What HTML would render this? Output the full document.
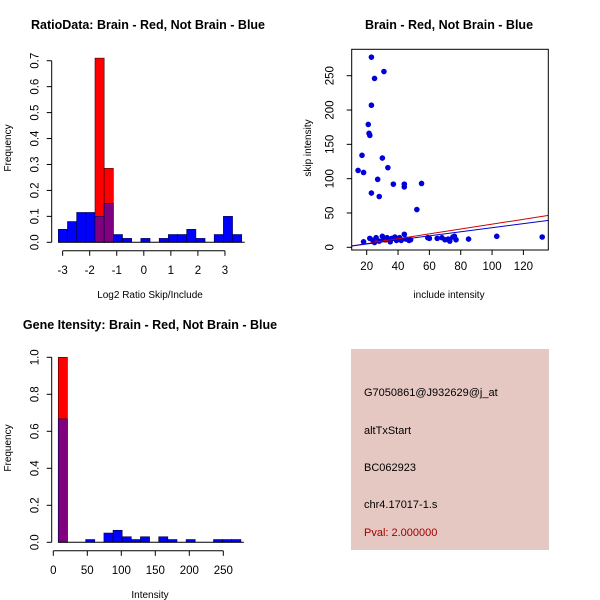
<!DOCTYPE html>
<html><head><meta charset="utf-8"><style>
body{margin:0;background:#fff}
svg{display:block;font-family:"Liberation Sans",Arial,sans-serif}
</style></head><body>
<svg id="c" width="600" height="600" viewBox="0 0 600 600" xmlns="http://www.w3.org/2000/svg">
<rect width="600" height="600" fill="#fff"/>
<g id="p1"></g>
<g id="p2"></g>
<g id="p3"></g>
<g>
<rect x="351" y="349" width="198" height="201" fill="#e6c8c2"/>
<text x="364" y="396" font-size="11" fill="#000">G7050861@J932629@j_at</text>
<text x="364" y="434" font-size="11" fill="#000">altTxStart</text>
<text x="364" y="471" font-size="11" fill="#000">BC062923</text>
<text x="364" y="508" font-size="11" fill="#000">chr4.17017-1.s</text>
<text x="364" y="536" font-size="11" fill="#a00000">Pval: 2.000000</text>
</g>
</svg>
<script>
// Panel 1 data
const ratioBinStart = -3.16, ratioBinWidth = 0.339;
const ratioRed = [0,0,0,0,0.71,0.285,0,0,0,0,0,0,0,0,0,0,0,0,0,0];
const ratioBlue = [0.05,0.08,0.115,0.115,0.10,0.15,0.03,0.015,0,0.015,0,0.015,0.03,0.03,0.05,0.015,0,0.03,0.10,0.03];
const ratioXTicks = [-3,-2,-1,0,1,2,3];
const ratioYTicks = [0,0.1,0.2,0.3,0.4,0.5,0.6,0.7];
// Panel 2 data
const includeVals = [23,31,25,23,21,21.5,22,17,30,14.5,18,33.5,27,23,28,37,44,44,55,52,18,22,24,26,25,28,30,31,33,35,36,38,39,41,42,44,45,47,48,59,60,65,68,70,72,73,75,76,77,85,103,132];
const skipVals = [277,256,246,207,179,166,163,134,130,112,109,116,99,79,74,92,92,88,93,55,8,13,10,14,7,9,16,12,14,8,13,15,10,14,10,19,12,10,11,14,13,13,14,11,12,9,15,16,11,12,16,15];
const redInclude = [26,28,32];
const redSkip = [8,7,9];
const redLine = [0.354,-1.7]; // slope, intercept
const blueLine = [0.297,-1.1];
const scatXTicks = [20,40,60,80,100,120];
const scatYTicks = [0,50,100,150,200,250];
// Panel 3 data
const intBinStart = 7.3, intBinWidth = 13.43;
const intRed = [1.0];
const intBlue = [0.667,0,0,0.015,0,0.05,0.065,0.03,0.015,0.03,0,0.03,0.015,0,0.015,0,0,0.015,0.015,0.015];
const intXTicks = [0,50,100,150,200,250];
const intYTicks = [0,0.2,0.4,0.6,0.8,1.0];

const NS="http://www.w3.org/2000/svg";
function mk(parent,tag,attrs,text){const e=document.createElementNS(NS,tag);for(const k in attrs)e.setAttribute(k,attrs[k]);if(text!==undefined)e.textContent=text;parent.appendChild(e);return e;}

function histPanel(g,o){
  const sx=v=>o.x0+(v-o.xa)*o.kx, sy=v=>o.y0-v*o.ky;
  mk(g,'text',{x:o.tx,y:o.ty,'font-size':12.5,'font-weight':'bold','text-anchor':'middle'},o.title);
  const n=Math.max(o.red.length,o.blue.length);
  for(let i=0;i<n;i++){
    const l=o.bs+i*o.bw, r=l+o.bw, rv=o.red[i]||0, bv=o.blue[i]||0;
    if(rv>0){const e=mk(g,'rect',{x:sx(l),y:sy(rv),width:sx(r)-sx(l),height:rv*o.ky,fill:'#ff0000',stroke:'#400000','stroke-width':0.6});
      }
    if(bv>0){const e=mk(g,'rect',{x:sx(l),y:sy(bv),width:sx(r)-sx(l),height:bv*o.ky,fill:rv>0?'#800080':'#0000ff',stroke:'#000040','stroke-width':0.6});
      }
  }
  const bl=mk(g,'line',{x1:sx(o.bs),x2:sx(o.bs+n*o.bw)+3,y1:o.y0,y2:o.y0,stroke:'#000'});
  
  const ax=o.xt, ay=o.y0+8.5;
  mk(g,'line',{x1:sx(ax[0]),x2:sx(ax[ax.length-1]),y1:ay,y2:ay,stroke:'#000'});
  ax.forEach(t=>{mk(g,'line',{x1:sx(t),x2:sx(t),y1:ay,y2:ay+5,stroke:'#000'});
    const e=mk(g,'text',{x:sx(t),y:ay+23,'font-size':11.5,'text-anchor':'middle'},String(t));});
  const yx=51.7, yt=o.yt;
  mk(g,'line',{x1:yx,x2:yx,y1:sy(yt[0]),y2:sy(yt[yt.length-1]),stroke:'#000'});
  yt.forEach(t=>{mk(g,'line',{x1:yx-5,x2:yx,y1:sy(t),y2:sy(t),stroke:'#000'});
    const e=mk(g,'text',{x:0,y:0,'font-size':11.5,'text-anchor':'middle',transform:`translate(${yx-13},${sy(t)}) rotate(-90)`},t.toFixed(1));});
  mk(g,'text',{x:0,y:0,'font-size':10,'text-anchor':'middle',transform:`translate(11,${o.fy}) rotate(-90)`},'Frequency');
  mk(g,'text',{x:o.xlx,y:o.xly,'font-size':10,'text-anchor':'middle'},o.xl);
}

histPanel(document.getElementById('p1'),{x0:143.8,xa:0,kx:27.05,y0:242.3,ky:259.4,bs:ratioBinStart,bw:ratioBinWidth,red:ratioRed,blue:ratioBlue,xt:ratioXTicks,yt:ratioYTicks,
  title:'RatioData: Brain - Red, Not Brain - Blue',tx:148,ty:29,fy:148,xl:'Log2 Ratio Skip/Include',xlx:150,xly:298});
histPanel(document.getElementById('p3'),{x0:53.3,xa:0,kx:0.68,y0:542.3,ky:185,bs:intBinStart,bw:intBinWidth,red:intRed,blue:intBlue,xt:intXTicks,yt:intYTicks,
  title:'Gene Itensity: Brain - Red, Not Brain - Blue',tx:150,ty:329,fy:448,xl:'Intensity',xlx:150,xly:598});

(function(){
  const g=document.getElementById('p2');
  const sx=v=>366.7+(v-20)*1.567, sy=v=>247.3-v*0.6864;
  const L=351.7,R=548.3,T=49.3,B=250;
  mk(g,'text',{x:449,y:29,'font-size':12.5,'font-weight':'bold','text-anchor':'middle'},'Brain - Red, Not Brain - Blue');
  const cp=mk(g,'clipPath',{id:'clip2'});mk(cp,'rect',{x:L,y:T,width:R-L,height:B-T});
  const pts=mk(g,'g',{'clip-path':'url(#clip2)'});
  
  includeVals.forEach((x,i)=>{const e=mk(pts,'circle',{cx:sx(x),cy:sy(skipVals[i]),r:2.8,fill:'#0000dd'});
    });
  redInclude.forEach((x,i)=>{const e=mk(pts,'circle',{cx:sx(x),cy:sy(redSkip[i]),r:1.6,fill:'#cc0000'});
    });
  const xl=10, xr=140;
  [[redLine,'#cc0000','red-fit-line'],[blueLine,'#0000cc','blue-fit-line']].forEach(([ln,c,nm])=>{
    const e=mk(pts,'line',{x1:sx(xl),y1:sy(ln[0]*xl+ln[1]),x2:sx(xr),y2:sy(ln[0]*xr+ln[1]),stroke:c,'stroke-width':1});
    });
  mk(g,'rect',{x:L,y:T,width:R-L,height:B-T,fill:'none',stroke:'#000'});
  scatXTicks.forEach(t=>{mk(g,'line',{x1:sx(t),x2:sx(t),y1:B,y2:B+5,stroke:'#000'});
    mk(g,'text',{x:sx(t),y:B+20,'font-size':11.5,'text-anchor':'middle'},String(t));});
  scatYTicks.forEach(t=>{mk(g,'line',{x1:L-5,x2:L,y1:sy(t),y2:sy(t),stroke:'#000'});
    mk(g,'text',{x:0,y:0,'font-size':11.5,'text-anchor':'middle',transform:`translate(${L-18},${sy(t)}) rotate(-90)`},String(t));});
  mk(g,'text',{x:449,y:298,'font-size':10,'text-anchor':'middle'},'include intensity');
  mk(g,'text',{x:0,y:0,'font-size':10,'text-anchor':'middle',transform:'translate(311,148) rotate(-90)'},'skip intensity');
})();
</script>
</body></html>
